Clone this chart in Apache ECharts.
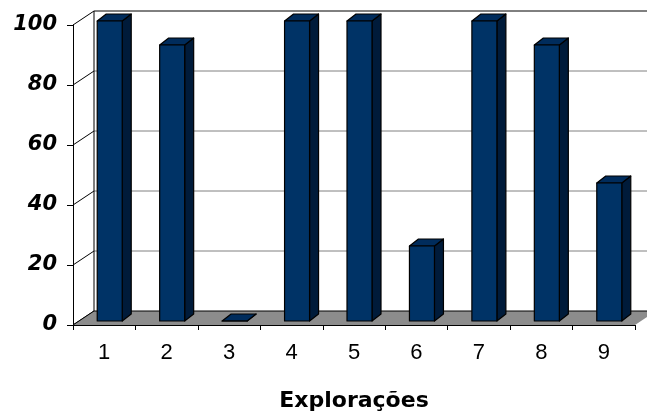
<!DOCTYPE html>
<html>
<head>
<meta charset="utf-8">
<script src="https://cdn.jsdelivr.net/npm/echarts@6/dist/echarts.min.js"></script>
<style>
  html, body { margin: 0; padding: 0; background: #ffffff; }
  #chart { width: 647px; height: 419px; }
</style>
</head>
<body>
<div id="chart"></div>
<script>
// Explorações — percentual por exploração
const categories = ['1', '2', '3', '4', '5', '6', '7', '8', '9'];
const values = [100, 92, 0, 100, 100, 25, 100, 92, 46];
const yTicks = [0, 20, 40, 60, 80, 100];
const axisTitle = 'Explorações';

// pseudo-3D geometry (pixels)
const WALL_DX = 21, WALL_DY = -14;   // back wall offset from front plane
const BAR_DX = 5.5, BAR_DY = -4;     // bar row sits between front and back
const BAR_W = 25;                    // bar front face width
const DEPTH_DX = 9, DEPTH_DY = -7;   // bar thickness

const BAR_FRONT = '#003366';
const BAR_SIDE = '#001b3a';
const BAR_TOP = '#002c5c';
const FLOOR = '#8c8c8c';

const chart = echarts.init(document.getElementById('chart'), null, { renderer: 'canvas' });

function wallItem(params, api) {
  const cs = params.coordSys;
  const t = api.value(1);
  const p = api.coord([0, t]);
  const y = p[1];
  const xl = cs.x;
  const xr = cs.x + cs.width;
  const children = [];
  // diagonal on the left side wall
  children.push({
    type: 'line',
    shape: { x1: xl, y1: y, x2: xl + WALL_DX, y2: y + WALL_DY },
    style: { stroke: '#000', lineWidth: 1 }
  });
  // gridline on the back wall
  if (t > 0) {
    children.push({
      type: 'line',
      shape: { x1: xl + WALL_DX, y1: y + WALL_DY, x2: xr + WALL_DX, y2: y + WALL_DY },
      style: { stroke: t === 100 ? '#000' : '#808080', lineWidth: 1 }
    });
  }
  if (t === 100) {
    const base = api.coord([0, 0])[1];
    children.push({
      type: 'line',
      shape: { x1: xl + WALL_DX, y1: y + WALL_DY, x2: xl + WALL_DX, y2: base + WALL_DY },
      style: { stroke: '#000', lineWidth: 1 }
    });
  }
  return { type: 'group', children: children };
}

function floorItem(params, api) {
  const cs = params.coordSys;
  const y = api.coord([0, 0])[1];
  const xl = cs.x, xr = cs.x + cs.width;
  return {
    type: 'group',
    children: [
      {
        type: 'polygon',
        shape: { points: [[xl, y], [xr, y], [xr + WALL_DX, y + WALL_DY], [xl + WALL_DX, y + WALL_DY]] },
        style: { fill: FLOOR, stroke: null }
      },
      {
        type: 'polyline',
        shape: { points: [[xl, y], [xl + WALL_DX, y + WALL_DY], [xr + WALL_DX, y + WALL_DY]] },
        style: { fill: null, stroke: '#000', lineWidth: 1 }
      }
    ]
  };
}

function barItem(params, api) {
  const i = api.value(0);
  const v = api.value(1);
  const top = api.coord([i, v]);
  const base = api.coord([i, 0]);
  const x0 = top[0] + BAR_DX - BAR_W / 2;
  const x1 = x0 + BAR_W;
  const yt = top[1] + BAR_DY;
  const yb = base[1] + BAR_DY;
  const edge = { stroke: '#000', lineWidth: 1.2, lineJoin: 'round' };
  return {
    type: 'group',
    children: [
      {
        type: 'polygon',
        shape: { points: [[x1, yt], [x1 + DEPTH_DX, yt + DEPTH_DY], [x1 + DEPTH_DX, yb + DEPTH_DY], [x1, yb]] },
        style: Object.assign({ fill: BAR_SIDE }, edge)
      },
      {
        type: 'polygon',
        shape: { points: [[x0, yt], [x0 + DEPTH_DX, yt + DEPTH_DY], [x1 + DEPTH_DX, yt + DEPTH_DY], [x1, yt]] },
        style: Object.assign({ fill: BAR_TOP }, edge)
      },
      {
        type: 'polygon',
        shape: { points: [[x0, yt], [x1, yt], [x1, yb], [x0, yb]] },
        style: Object.assign({ fill: BAR_FRONT }, edge)
      }
    ]
  };
}

chart.setOption({
  animation: false,
  backgroundColor: '#ffffff',
  grid: { left: 73, right: 12, top: 25, bottom: 94, containLabel: false, outerBoundsMode: 'none' },
  xAxis: {
    type: 'category',
    data: categories,
    boundaryGap: true,
    axisLine: { show: true, lineStyle: { color: '#000', width: 1 } },
    axisTick: { show: true, length: 5, lineStyle: { color: '#000' } },
    axisLabel: {
      margin: 17,
      color: '#000',
      fontFamily: 'Liberation Sans, Arial, sans-serif',
      fontSize: 22
    },
    splitLine: { show: false },
    name: axisTitle,
    nameLocation: 'middle',
    nameGap: 65,
    nameTextStyle: {
      color: '#000',
      fontFamily: 'DejaVu Sans, sans-serif',
      fontWeight: 'bold',
      fontSize: 22
    }
  },
  yAxis: {
    type: 'value',
    min: 0,
    max: 100,
    interval: 20,
    axisLine: { show: true, lineStyle: { color: '#000', width: 1 } },
    axisTick: { show: true, length: 6, lineStyle: { color: '#000' } },
    axisLabel: {
      margin: 16,
      color: '#000',
      fontFamily: 'DejaVu Sans, sans-serif',
      fontWeight: 'bold',
      fontStyle: 'italic',
      fontSize: 21
    },
    splitLine: { show: false }
  },
  series: [
    {
      type: 'custom',
      name: 'paredes',
      z: 1,
      silent: true,
      renderItem: wallItem,
      data: yTicks.map(function (t) { return [0, t]; })
    },
    {
      type: 'custom',
      name: 'piso',
      z: 2,
      silent: true,
      renderItem: floorItem,
      data: [[0, 0]]
    },
    {
      type: 'custom',
      name: 'Explorações',
      z: 3,
      renderItem: barItem,
      encode: { x: 0, y: 1 },
      data: values.map(function (v, i) { return [i, v]; })
    }
  ]
});
</script>
</body>
</html>
